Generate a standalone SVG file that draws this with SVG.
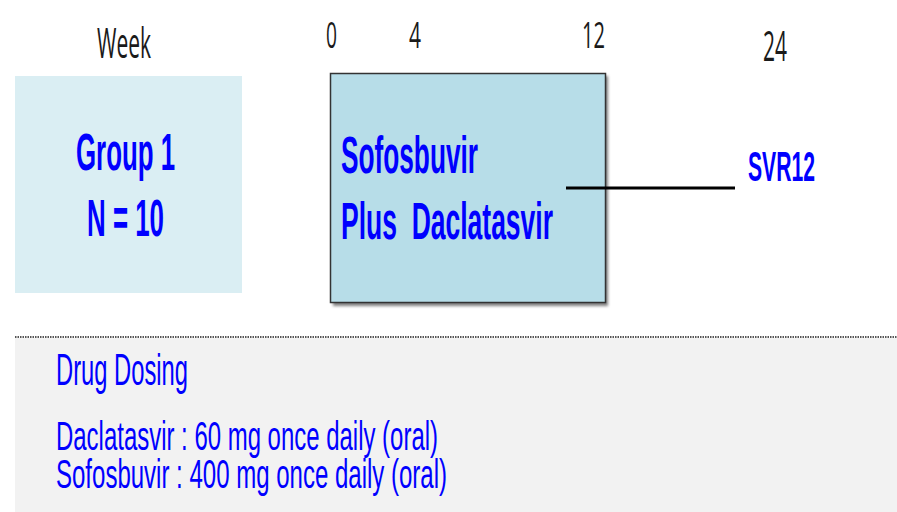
<svg xmlns="http://www.w3.org/2000/svg" width="897" height="512" viewBox="0 0 897 512">
  <style>
    text { white-space: pre; }
    .axis { font-family: "Open Sans", "Liberation Sans", sans-serif; fill: #1a1a1a; }
    .label { font-family: "Liberation Sans", Arial, sans-serif; font-weight: bold; fill: #0000ff; }
    .dose { font-family: "Liberation Sans", Arial, sans-serif; fill: #0000ff; }
  </style>
  <defs>
    <filter id="shadow" x="-5%" y="-5%" width="115%" height="115%">
      <feGaussianBlur stdDeviation="1.5"/>
    </filter>
  </defs>

  <rect width="897" height="512" fill="#ffffff"/>

  <!-- timeline labels -->
  <g id="axis">
    <text class="axis" x="97" y="58" font-size="42" textLength="54" lengthAdjust="spacingAndGlyphs">Week</text>
    <text class="axis" x="326" y="48" font-size="36" textLength="11" lengthAdjust="spacingAndGlyphs">0</text>
    <text class="axis" x="409" y="48" font-size="36" textLength="12" lengthAdjust="spacingAndGlyphs">4</text>
    <text class="axis" x="582" y="48" font-size="36" textLength="23" lengthAdjust="spacingAndGlyphs">12</text>
    <text class="axis" x="763" y="61" font-size="42" textLength="24" lengthAdjust="spacingAndGlyphs">24</text>
  </g>

  <!-- group box -->
  <g id="group1">
    <rect x="15" y="76" width="227" height="217" fill="#daeef3"/>
    <text class="label" x="76" y="170" font-size="51" textLength="99" lengthAdjust="spacingAndGlyphs">Group 1</text>
    <text class="label" x="87" y="236" font-size="51" textLength="77" lengthAdjust="spacingAndGlyphs">N = 10</text>
  </g>

  <!-- treatment box -->
  <g id="treatment">
    <rect x="333" y="76" width="275" height="230" fill="#7f7f7f" filter="url(#shadow)"/>
    <rect x="330.5" y="73.5" width="275" height="229" fill="#b7dde8" stroke="#333333" stroke-width="1.5"/>
    <text class="label" x="341" y="173" font-size="51" textLength="137" lengthAdjust="spacingAndGlyphs">Sofosbuvir</text>
    <text class="label" x="341" y="239" font-size="51" textLength="212" lengthAdjust="spacingAndGlyphs">Plus  Daclatasvir</text>
  </g>

  <!-- follow-up connector -->
  <g id="connectors">
    <line x1="566" y1="188" x2="735" y2="188" stroke="#000000" stroke-width="3"/>
  </g>

  <g id="svr12">
    <text class="label" x="748" y="181" font-size="42" textLength="67" lengthAdjust="spacingAndGlyphs">SVR12</text>
  </g>

  <!-- dosing panel -->
  <g id="dosing">
    <rect x="15" y="338" width="882" height="174" fill="#f2f2f2"/>
    <line x1="15" y1="337" x2="897" y2="337" stroke="#555555" stroke-width="2" stroke-dasharray="1.5 1"/>
    <text class="dose" x="56" y="385" font-size="45" textLength="132" lengthAdjust="spacingAndGlyphs">Drug Dosing</text>
    <text class="dose" x="56" y="450" font-size="40" textLength="382" lengthAdjust="spacingAndGlyphs">Daclatasvir : 60 mg once daily (oral)</text>
    <text class="dose" x="56" y="488" font-size="40" textLength="391" lengthAdjust="spacingAndGlyphs">Sofosbuvir : 400 mg once daily (oral)</text>
  </g>
</svg>
